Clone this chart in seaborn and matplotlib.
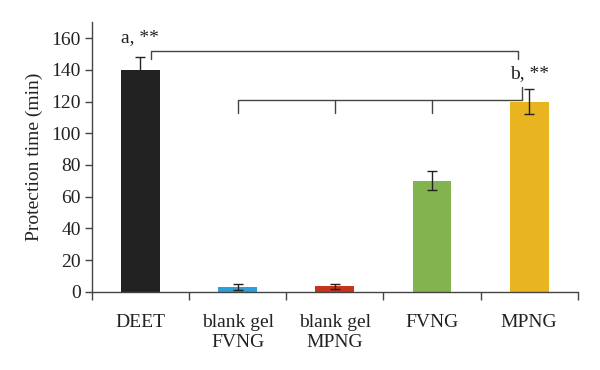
import pandas as pd
import seaborn as sns
import matplotlib
matplotlib.use("Agg")
import matplotlib.pyplot as plt

# data
groups = ["DEET", "blank gel\nFVNG", "blank gel\nMPNG", "FVNG", "MPNG"]
protection = [140, 3, 3.5, 70, 120]
errors = [8, 2, 1.5, 6, 8]
colors = ["#222222", "#2e9fd8", "#c6341b", "#83b34f", "#e8b420"]

df = pd.DataFrame({"group": groups, "time": protection})

sns.set_style("white")
plt.rcParams["font.family"] = ["Liberation Serif", "DejaVu Serif"]

fig = plt.figure(figsize=(6, 3.7), dpi=100)
ax = fig.add_axes([0.153, 0.211, 0.81, 0.729])

sns.barplot(data=df, x="group", y="time", hue="group", palette=colors,
            saturation=1, width=0.4, errorbar=None, legend=False, ax=ax,
            edgecolor="none")
ax.errorbar(range(len(groups)), protection, yerr=errors, fmt="none",
            ecolor="#222222", elinewidth=1, capsize=3.5, capthick=1)

# significance brackets
lc = "#444444"
ax.plot([0.11, 0.11, 3.88, 3.88], [147, 152, 152, 147], color=lc, lw=1)
ax.plot([1, 1, 3.93, 3.93], [113, 121, 121, 129], color=lc, lw=1)
ax.plot([2, 2], [121, 113], color=lc, lw=1)
ax.plot([3, 3], [121, 113], color=lc, lw=1)
ax.text(0, 155, "a, **", ha="center", va="bottom", fontsize=14, color="#222222")
ax.text(4, 132, "b, **", ha="center", va="bottom", fontsize=14, color="#222222")

ax.set_xlim(-0.5, 4.5)
ax.set_ylim(0, 170)
ax.set_yticks(range(0, 161, 20))
ax.set_xlabel("")
ax.set_ylabel("Protection time (min)", fontsize=14, color="#222222", labelpad=6)

# category boundary ticks on the x axis
ax.set_xticks([i - 0.5 for i in range(len(groups) + 1)], minor=True)
ax.tick_params(axis="x", which="major", length=0, pad=16, labelsize=14,
               labelcolor="#222222")
ax.tick_params(axis="x", which="minor", length=6, width=1, color=lc,
               direction="out", bottom=True)
ax.tick_params(axis="y", length=5, width=1, color=lc, direction="out",
               left=True, labelsize=14, labelcolor="#222222", pad=3)

sns.despine(ax=ax)
for s in ["left", "bottom"]:
    ax.spines[s].set_color(lc)
    ax.spines[s].set_linewidth(1)

plt.savefig("out.png", dpi=100)
plt.close()
